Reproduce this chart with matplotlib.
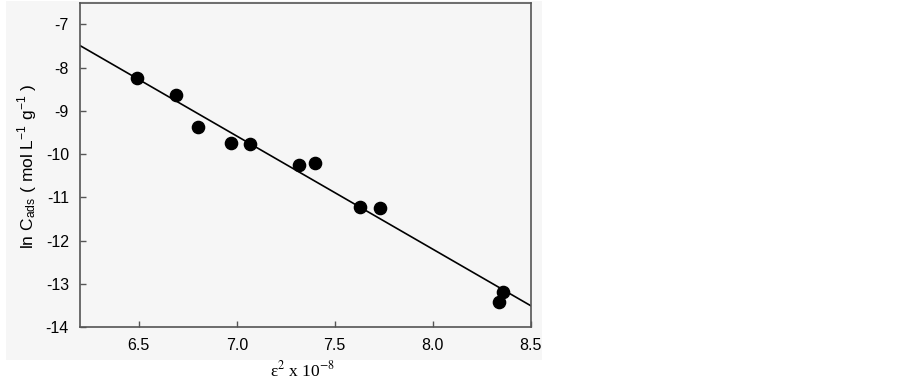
import numpy as np
import matplotlib
matplotlib.use('Agg')
import matplotlib.pyplot as plt
from matplotlib.patches import Rectangle

plt.rcParams['font.family'] = ['Liberation Sans', 'DejaVu Sans']
plt.rcParams['axes.unicode_minus'] = False
plt.rcParams['mathtext.fontset'] = 'stix'

# data
eps2 = [6.49, 6.69, 6.80, 6.97, 7.07, 7.32, 7.40, 7.63, 7.73, 8.36, 8.34]
ln_cads = [-8.25, -8.64, -9.38, -9.75, -9.76, -10.25, -10.21, -11.23, -11.24, -13.18, -13.42]
fit_slope = -2.613
fit_intercept = 8.71
xticks = [6.5, 7.0, 7.5, 8.0, 8.5]
yticks = [-14, -13, -12, -11, -10, -9, -8, -7]

fig = plt.figure(figsize=(9.02, 3.84), dpi=100)
fig.patch.set_facecolor('white')
# light grey panel behind the plot
bg = Rectangle((6 / 902, 1 - 360 / 384), 536 / 902, 359 / 384,
               transform=fig.transFigure, facecolor='#f6f6f6',
               edgecolor='none', zorder=-10)
fig.add_artist(bg)

ax = fig.add_axes([80 / 902, 1 - 327.3 / 384, 450.7 / 902, 324.6 / 384])
ax.set_facecolor('#f6f6f6')

xs = np.array([6.2, 8.5])
ax.plot(xs, fit_intercept + fit_slope * xs, color='black', lw=1.2, zorder=2)
ax.plot(eps2, ln_cads, 'o', color='black', ms=8.8, zorder=3)

ax.set_xlim(6.2, 8.5)
ax.set_ylim(-14, -6.5)
ax.set_xticks(xticks)
ax.set_xticklabels([f'{v:.1f}' for v in xticks])
ax.set_yticks(yticks)
ax.set_yticklabels([str(v) for v in yticks])
ax.tick_params(direction='in', length=4, width=1, color='#555555',
               labelsize=11.5, pad=8)
for s in ax.spines.values():
    s.set_color('#555555')
    s.set_linewidth(1.2)

fig.text(28 / 902, 1 - 166 / 384,
         r'ln C$_{\mathregular{ads}}$ ( mol L$^{\mathregular{-1}}$ g$^{\mathregular{-1}}$ )',
         rotation=90, ha='center', va='center', fontsize=12.5)
fig.text(303 / 902, 1 - 370 / 384, r'ε$^2$ x 10$^{-8}$',
         family=['Liberation Serif', 'DejaVu Serif'],
         ha='center', va='center', fontsize=12.5)

fig.savefig('out.png', dpi=100, facecolor='white')
